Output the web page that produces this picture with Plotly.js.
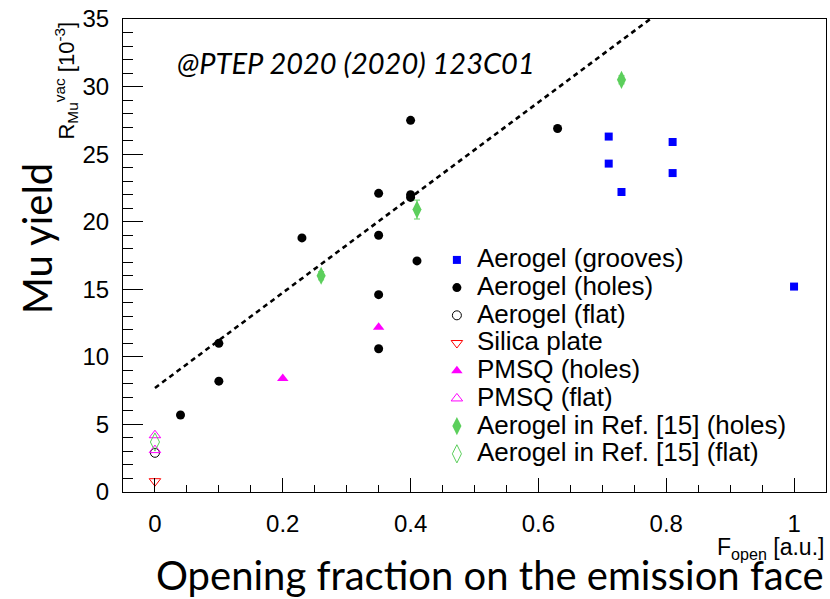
<!DOCTYPE html>
<html>
<head>
<meta charset="utf-8">
<script src="https://cdn.plot.ly/plotly-3.0.1.min.js"></script>
<style>
  html, body { margin: 0; padding: 0; background: #ffffff; }
  #chart { width: 830px; height: 599px; }
</style>
</head>
<body>
<div id="chart"></div>
<script>
// Muonium yield vs opening fraction of the emission face
const groovesX = [0.71, 0.71, 0.73, 0.81, 0.81, 1.00];
const groovesY = [26.3, 24.3, 22.2, 25.9, 23.6, 15.2];
const groovesErr = [0.1, 0.1, 0.2, 0.2, 0.2, 0.1];

const holesX = [0.04, 0.10, 0.10, 0.23, 0.35, 0.35, 0.35, 0.35, 0.40, 0.40, 0.40, 0.41, 0.63];
const holesY = [5.7, 8.2, 11.0, 18.8, 22.1, 19.0, 14.6, 10.6, 27.5, 22.0, 21.8, 17.1, 26.9];

const flatX = [0.0];
const flatY = [2.9];

const silicaX = [0.0];
const silicaY = [0.8];

const pmsqHolesX = [0.20, 0.35];
const pmsqHolesY = [8.4, 12.2];

const pmsqFlatX = [0.0, 0.0];
const pmsqFlatY = [4.2, 3.1];

const refHolesX = [0.26, 0.41, 0.73];
const refHolesY = [16.0, 20.9, 30.5];
const refHolesErr = [0.3, 0.7, 0.3];

const refFlatX = [0.0];
const refFlatY = [3.7];

// linear trend line (dashed)
const fitX = [0.0, 0.775];
const fitY = [7.7, 35.0];

const seriesNames = [
  'Aerogel (grooves)',
  'Aerogel (holes)',
  'Aerogel (flat)',
  'Silica plate',
  'PMSQ (holes)',
  'PMSQ (flat)',
  'Aerogel in Ref. [15] (holes)',
  'Aerogel in Ref. [15] (flat)'
];

const xRange = [-0.05, 1.05];
const yRange = [0, 35];

const GREEN = '#5ccf5c';
const BASE = 'Liberation Sans, Arial, sans-serif';
const HUMAN = 'Lato, Open Sans, sans-serif';

// legend rows keep a compact pitch while the label text is drawn larger
const legendLabel = s => '<span style="font-size:26px">' + s + '</span>';

const traces = [
  { x: fitX, y: fitY, mode: 'lines', showlegend: false, hoverinfo: 'skip',
    line: { color: '#000000', width: 2.6, dash: '5px,4px' } },
  { x: groovesX, y: groovesY, name: legendLabel(seriesNames[0]), mode: 'markers', type: 'scatter',
    error_y: { type: 'data', array: groovesErr, color: '#0000ff', thickness: 1, width: 0 },
    marker: { symbol: 'square', size: 8, color: '#0000ff' } },
  { x: holesX, y: holesY, name: legendLabel(seriesNames[1]), mode: 'markers',
    marker: { symbol: 'circle', size: 9, color: '#000000' } },
  { x: flatX, y: flatY, name: legendLabel(seriesNames[2]), mode: 'markers',
    marker: { symbol: 'circle-open', size: 9, color: '#000000', line: { width: 1 } } },
  { x: silicaX, y: silicaY, name: legendLabel(seriesNames[3]), mode: 'markers',
    marker: { symbol: 'triangle-down-open', size: 10, color: '#ff0000', line: { width: 1 } } },
  { x: pmsqHolesX, y: pmsqHolesY, name: legendLabel(seriesNames[4]), mode: 'markers',
    marker: { symbol: 'triangle-up', size: 10, color: '#ff00ff' } },
  { x: pmsqFlatX, y: pmsqFlatY, name: legendLabel(seriesNames[5]), mode: 'markers',
    marker: { symbol: 'triangle-up-open', size: 10, color: '#ff00ff', line: { width: 1 } } },
  { x: refHolesX, y: refHolesY, name: legendLabel(seriesNames[6]), mode: 'markers',
    error_y: { type: 'data', array: refHolesErr, color: GREEN, thickness: 1, width: 3 },
    marker: { symbol: 'diamond-tall', size: 13, color: GREEN } },
  { x: refFlatX, y: refFlatY, name: legendLabel(seriesNames[7]), mode: 'markers',
    marker: { symbol: 'diamond-tall-open', size: 13, color: GREEN, line: { width: 1 } } }
];

const layout = {
  width: 830, height: 599,
  margin: { l: 123, r: 4, t: 19, b: 107 },
  paper_bgcolor: '#ffffff', plot_bgcolor: '#ffffff',
  font: { family: BASE, color: '#000000' },
  showlegend: true,
  legend: {
    x: 0.4465, y: 0.5305, xanchor: 'left', yanchor: 'top',
    bgcolor: 'rgba(0,0,0,0)', borderwidth: 0,
    font: { family: BASE, size: 19, color: '#000000' },
    itemwidth: 30
  },
  xaxis: {
    range: xRange, dtick: 0.2, tick0: 0,
    ticks: 'inside', ticklen: 14, tickwidth: 1, tickcolor: '#000000',
    minor: { dtick: 0.05, ticks: 'inside', ticklen: 7, tickwidth: 1, tickcolor: '#000000' },
    showline: true, linecolor: '#000000', linewidth: 1, mirror: true,
    showgrid: false, zeroline: false,
    tickfont: { family: BASE, size: 24 }, ticklabelstandoff: 10
  },
  yaxis: {
    range: yRange, dtick: 5, tick0: 0,
    ticks: 'inside', ticklen: 20, tickwidth: 1, tickcolor: '#000000',
    minor: { dtick: 1, ticks: 'inside', ticklen: 10, tickwidth: 1, tickcolor: '#000000' },
    showline: true, linecolor: '#000000', linewidth: 1, mirror: true,
    showgrid: false, zeroline: false,
    tickfont: { family: BASE, size: 24 }, ticklabelstandoff: 8
  },
  annotations: [
    { xref: 'paper', yref: 'paper', x: 0.074, y: 0.909, xanchor: 'left', yanchor: 'middle',
      text: '@PTEP 2020 (2020) 123C01', showarrow: false,
      font: { family: HUMAN, size: 29, style: 'italic', color: '#000000' } },
    { xref: 'paper', yref: 'paper', x: -0.081, y: 0.87, xanchor: 'center', yanchor: 'middle',
      textangle: -90, showarrow: false,
      text: 'R<sub>Mu</sub><sup>vac</sup> [10<sup>-3</sup>]',
      font: { family: BASE, size: 22, color: '#000000' } },
    { xref: 'paper', yref: 'paper', x: -0.122, y: 0.537, xanchor: 'center', yanchor: 'middle',
      textangle: -90, showarrow: false, text: 'Mu yield',
      font: { family: HUMAN, size: 40, color: '#000000' } },
    { xref: 'paper', yref: 'paper', x: 1.0, y: -0.119, xanchor: 'right', yanchor: 'middle',
      showarrow: false, text: 'F<sub>open</sub> [a.u.]',
      font: { family: BASE, size: 23, color: '#000000' } },
    { xref: 'paper', yref: 'paper', x: 0.522, y: -0.176, xanchor: 'center', yanchor: 'middle',
      showarrow: false, text: 'Opening fraction on the emission face',
      font: { family: HUMAN, size: 40, color: '#000000' } }
  ]
};

Plotly.newPlot('chart', traces, layout, { staticPlot: true, displayModeBar: false });
</script>
</body>
</html>
